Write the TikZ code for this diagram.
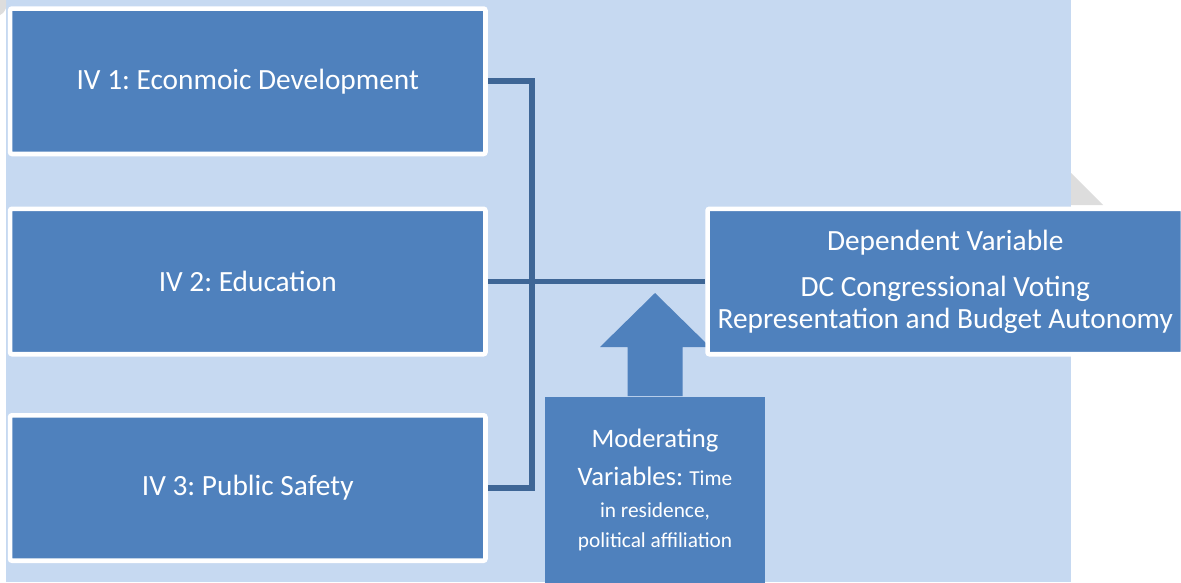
\documentclass[tikz,border=0pt]{standalone}
\usepackage{fontspec}
\setmainfont{Carlito}
\frenchspacing
\definecolor{bgblue}{HTML}{C6D9F1}
\definecolor{boxblue}{HTML}{4F81BD}
\definecolor{linkblue}{HTML}{3E6696}
\definecolor{shadowgray}{HTML}{DDDDDD}
\begin{document}
\begin{tikzpicture}[x=0.75pt,y=-0.75pt,
  ivbox/.style={draw=white, line width=3.4pt, fill=boxblue, rounded corners=1.5pt,
    minimum width=356.6pt, minimum height=109.1pt, inner sep=0pt, text=white,
    font=\fontsize{22}{24}\selectfont, align=center},
  modbox/.style={fill=boxblue, minimum width=165pt, minimum height=140.25pt, inner sep=0pt,
    text=white, font=\fontsize{20}{24}\selectfont, align=center},
  link/.style={draw=linkblue, line width=4.2pt}]
\useasboundingbox (0,0) rectangle (1181,582);
\fill[bgblue] (6,0) rectangle (1071,582);
\fill[shadowgray] (1071,173) -- (1103,205) -- (1071,205) -- cycle;
\fill[shadowgray] (0,0) -- (6,0) -- (6,8) .. controls (4,13) and (2,14) .. (0,15) -- cycle;
% moderating arrow and box
\fill[boxblue] (655,293) -- (710,347) -- (682.5,347) -- (682.5,396) -- (627.5,396) -- (627.5,347) -- (600,347) -- cycle;
\node[modbox] (mod) at (655,490) {Moderating\\[4pt]Variables: {\fontsize{16}{17}\selectfont Time}\\{\fontsize{16}{17}\selectfont in residence,}\\[-1.5pt]{\fontsize{16}{17}\selectfont political affiliation}};
% boxes
\node[ivbox] (iv1) at (247.75,81.25) {IV 1: Econmoic Development};
\node[ivbox] (iv2) at (247.75,281.5) {IV 2: Education};
\node[ivbox] (iv3) at (247.75,488) {IV 3: Public Safety};
\node[ivbox] (dv) at (945.25,281.5) {Dependent Variable\\[10.5pt]DC Congressional Voting\\Representation and Budget Autonomy};
% connectors
\coordinate (j) at (532,0);
\draw[link] (iv1.east) -- (iv1.east -| j) -- (iv3.east -| j) -- (iv3.east);
\draw[link] (iv2.east) -- (dv.west);
\end{tikzpicture}
\end{document}
